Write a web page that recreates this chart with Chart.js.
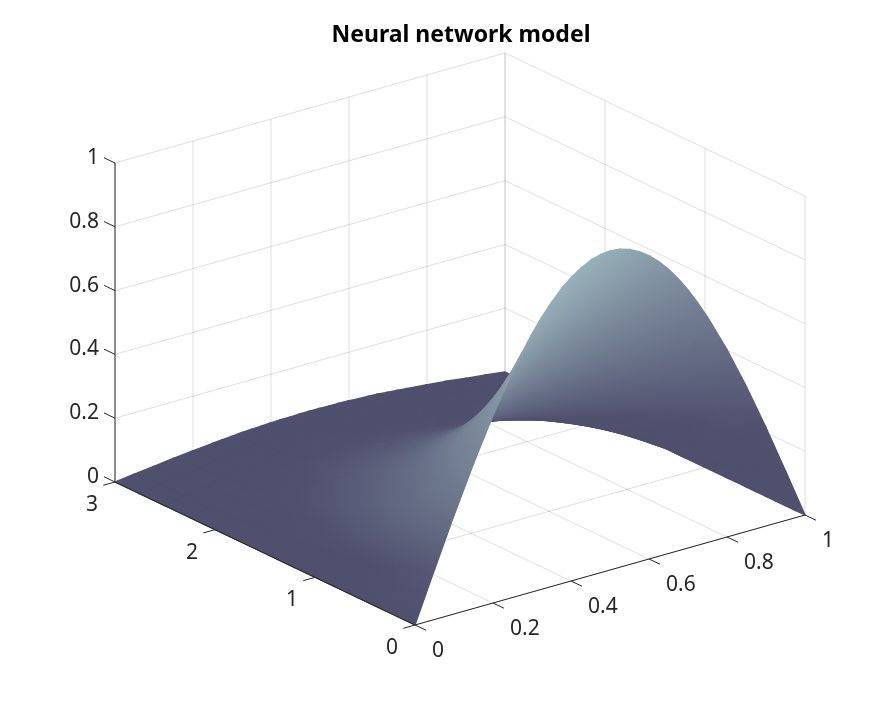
<!DOCTYPE html>
<html>
<head>
<meta charset="utf-8">
<title>Neural network model</title>
<script src="https://cdn.jsdelivr.net/npm/chart.js@4"></script>
<style>
  html, body { margin: 0; background: #fff; }
  canvas { display: block; }
</style>
</head>
<body>
<canvas id="surfaceChart" width="891" height="703"></canvas>
<script>
const chartTitle = 'Neural network model';

const xTicks = [0, 0.2, 0.4, 0.6, 0.8, 1];
const tTicks = [0, 1, 2, 3];
const zTicks = [0, 0.2, 0.4, 0.6, 0.8, 1];

// Surface grid: one row per t, one column per x
const xValues = [0, 0.05, 0.1, 0.15, 0.2, 0.25, 0.275, 0.3, 0.325, 0.35, 0.375, 0.4, 0.425, 0.45, 0.475, 0.5, 0.525, 0.55, 0.575, 0.6, 0.625, 0.65, 0.675, 0.7, 0.725, 0.75, 0.8, 0.85, 0.9, 0.95, 1];
const tValues = [0, 0.1, 0.2, 0.3, 0.4, 0.5, 0.6, 0.8, 1, 1.2, 1.4, 1.6, 1.8, 2, 2.25, 2.5, 2.75, 3];
const uRows = [
  [0, .156, .309, .454, .588, .707, .760, .809, .853, .891, .924, .951, .972, .988, .997, 1, .997, .988, .972, .951, .924, .891, .853, .809, .760, .707, .588, .454, .309, .156, 0],
  [0, .141, .280, .411, .532, .640, .688, .732, .772, .806, .836, .861, .880, .894, .902, .905, .902, .894, .880, .861, .836, .806, .772, .732, .688, .640, .532, .411, .280, .141, 0],
  [0, .128, .253, .372, .482, .579, .622, .663, .699, .730, .757, .779, .796, .809, .817, .819, .817, .809, .796, .779, .757, .730, .699, .663, .622, .579, .482, .372, .253, .128, 0],
  [0, .116, .229, .336, .436, .524, .563, .599, .632, .660, .685, .705, .720, .732, .739, .741, .739, .732, .720, .705, .685, .660, .632, .599, .563, .524, .436, .336, .229, .116, 0],
  [0, .105, .207, .304, .394, .474, .509, .542, .572, .597, .619, .637, .651, .662, .668, .670, .668, .662, .651, .637, .619, .597, .572, .542, .509, .474, .394, .304, .207, .105, 0],
  [0, .095, .188, .276, .357, .429, .461, .491, .518, .541, .561, .577, .590, .600, .605, .607, .605, .600, .590, .577, .561, .541, .518, .491, .461, .429, .357, .276, .188, .095, 0],
  [0, .086, .170, .249, .323, .388, .417, .444, .468, .489, .507, .522, .534, .542, .547, .549, .547, .542, .534, .522, .507, .489, .468, .444, .417, .388, .323, .249, .170, .086, 0],
  [0, .070, .139, .204, .264, .317, .341, .363, .383, .400, .415, .427, .436, .444, .448, .449, .448, .444, .436, .427, .415, .400, .383, .363, .341, .317, .264, .204, .139, .070, 0],
  [0, .057, .114, .167, .216, .260, .280, .298, .314, .328, .340, .350, .358, .364, .367, .368, .367, .364, .358, .350, .340, .328, .314, .298, .280, .260, .216, .167, .114, .057, 0],
  [0, .047, .093, .137, .177, .213, .229, .244, .257, .268, .278, .286, .293, .297, .300, .301, .300, .297, .293, .286, .278, .268, .257, .244, .229, .213, .177, .137, .093, .047, 0],
  [0, .039, .076, .112, .145, .175, .188, .200, .211, .220, .228, .235, .240, .244, .246, .247, .246, .244, .240, .235, .228, .220, .211, .200, .188, .175, .145, .112, .076, .039, 0],
  [0, .032, .062, .092, .119, .143, .154, .163, .172, .180, .187, .192, .196, .200, .201, .202, .201, .200, .196, .192, .187, .180, .172, .163, .154, .143, .119, .092, .062, .032, 0],
  [0, .026, .051, .075, .097, .117, .125, .133, .141, .147, .152, .157, .160, .163, .165, .165, .165, .163, .160, .157, .152, .147, .141, .133, .125, .117, .097, .075, .051, .026, 0],
  [0, .021, .042, .061, .079, .095, .103, .109, .115, .120, .125, .128, .131, .133, .135, .135, .135, .133, .131, .128, .125, .120, .115, .109, .103, .095, .079, .061, .042, .021, 0],
  [0, .016, .032, .048, .062, .074, .080, .085, .090, .094, .097, .100, .102, .104, .105, .105, .105, .104, .102, .100, .097, .094, .090, .085, .080, .074, .062, .048, .032, .016, 0],
  [0, .013, .025, .037, .048, .058, .062, .066, .070, .073, .076, .078, .080, .081, .082, .082, .082, .081, .080, .078, .076, .073, .070, .066, .062, .058, .048, .037, .025, .013, 0],
  [0, .010, .020, .029, .038, .045, .049, .052, .055, .057, .059, .061, .062, .063, .064, .064, .064, .063, .062, .061, .059, .057, .055, .052, .049, .045, .038, .029, .020, .010, 0],
  [0, .008, .015, .023, .029, .035, .038, .040, .043, .045, .046, .048, .049, .049, .050, .050, .050, .049, .049, .048, .046, .045, .043, .040, .038, .035, .029, .023, .015, .008, 0]
];

const DARK = [79, 79, 110];
const LIGHT = [152, 177, 185];
const AXIS_COLOR = '#262626';
const GRID_COLOR = 'rgba(38, 38, 38, 0.15)';
const FONT = '"Noto Sans", sans-serif';

// Fixed camera of the 3D view, maps (x, t, z) onto the chart's flat x/y scales
function project(x, t, z) {
  return {
    x: 415 + 390 * x - 100 * t,
    y: 625 - 110 * x - 47.67 * t - 319 * z
  };
}

// Distance from the camera, larger is further away
function depth(x, t, z) {
  return 0.567 * x + 0.245 * t - 0.256 * z;
}

// Stand-in for the reference's lit shading, tuned by eye
function shade(x, t, u) {
  const v = u * Math.max(1.3 - 0.8 * x, 1.6 - 2.3 * x) * (1 + 0.5 * t * (1 - x));
  return Math.min(1, Math.max(0, (v - 0.16) * 1.3));
}

function shadeColor(s) {
  const c = DARK.map((d, i) => Math.round(d + (LIGHT[i] - d) * s));
  return `rgb(${c[0]}, ${c[1]}, ${c[2]})`;
}

function lineDataset(points, color, width) {
  return {
    data: points,
    showLine: true,
    fill: false,
    borderColor: color,
    borderWidth: width,
    pointRadius: 0,
    tension: 0,
    clip: false
  };
}

// Back walls and floor
function buildGrid() {
  const sets = [];
  const add = (a, b) => sets.push(lineDataset([project(...a), project(...b)], GRID_COLOR, 1));
  zTicks.forEach(z => {
    add([0, 3, z], [1, 3, z]);
    add([1, 3, z], [1, 0, z]);
  });
  xTicks.forEach(x => {
    add([x, 3, 0], [x, 3, 1]);
    add([x, 0, 0], [x, 3, 0]);
  });
  tTicks.forEach(t => {
    add([1, t, 0], [1, t, 1]);
    add([0, t, 0], [1, t, 0]);
  });
  return sets;
}

function buildAxes() {
  const sets = [];
  const add = (a, b) => sets.push(lineDataset([project(...a), project(...b)], AXIS_COLOR, 1));
  add([0, 0, 0], [1, 0, 0]);
  add([0, 0, 0], [0, 3, 0]);
  add([0, 3, 0], [0, 3, 1]);
  xTicks.forEach(x => add([x, 0, 0], [x, -0.11, 0]));
  tTicks.forEach(t => add([0, t, 0], [-0.03, t, 0]));
  zTicks.forEach(z => add([0, 3, z], [0, 3.11, z]));
  return sets;
}

// Least squares plane through the quad's shade values, gives the gradient direction
function shadeSlope(corners) {
  const n = corners.length;
  const mx = corners.reduce((sum, c) => sum + c.p.x, 0) / n;
  const my = corners.reduce((sum, c) => sum + c.p.y, 0) / n;
  const ms = corners.reduce((sum, c) => sum + c.s, 0) / n;
  let xx = 0, xy = 0, yy = 0, xs = 0, ys = 0;
  corners.forEach(c => {
    const dx = c.p.x - mx, dy = c.p.y - my, ds = c.s - ms;
    xx += dx * dx; xy += dx * dy; yy += dy * dy; xs += dx * ds; ys += dy * ds;
  });
  const det = xx * yy - xy * xy;
  if (det < 1) return null;
  const a = (xs * yy - ys * xy) / det;
  const b = (ys * xx - xs * xy) / det;
  const len = a * a + b * b;
  if (len < 1e-9) return null;
  return { mx, my, ms, ux: a / len, uy: b / len };
}

function quadDataset(quad) {
  const shades = quad.corners.map(c => c.s);
  const low = Math.min(...shades);
  const high = Math.max(...shades);
  const slope = shadeSlope(quad.corners);
  const flat = shadeColor((low + high) / 2);
  const paint = ctx => {
    const { chart } = ctx;
    if (!slope || high - low < 0.002) return flat;
    const pos = s => ({ x: slope.mx + (s - slope.ms) * slope.ux, y: slope.my + (s - slope.ms) * slope.uy });
    const a = pos(low);
    const b = pos(high);
    const x0 = chart.scales.x?.getPixelForValue(a.x);
    const y0 = chart.scales.y?.getPixelForValue(a.y);
    const x1 = chart.scales.x?.getPixelForValue(b.x);
    const y1 = chart.scales.y?.getPixelForValue(b.y);
    // Scales have no size yet on the first options pass
    if (![x0, y0, x1, y1].every(Number.isFinite)) return flat;
    const g = chart.ctx.createLinearGradient(x0, y0, x1, y1);
    g.addColorStop(0, shadeColor(low));
    g.addColorStop(1, shadeColor(high));
    return g;
  };
  const outline = quad.corners.map(c => c.p);
  outline.push(outline[0]);
  return {
    data: outline,
    showLine: true,
    fill: 'shape',
    backgroundColor: paint,
    borderColor: paint,
    borderWidth: 1.3,
    pointRadius: 0,
    tension: 0,
    clip: false
  };
}

// Painter's order: Chart.js draws the last dataset first, so nearest quads go first
function buildSurface() {
  const quads = [];
  for (let r = 0; r < tValues.length - 1; r++) {
    for (let c = 0; c < xValues.length - 1; c++) {
      const ids = [[r, c], [r, c + 1], [r + 1, c + 1], [r + 1, c]];
      const corners = ids.map(([i, j]) => ({
        p: project(xValues[j], tValues[i], uRows[i][j]),
        s: shade(xValues[j], tValues[i], uRows[i][j]),
        d: depth(xValues[j], tValues[i], uRows[i][j])
      }));
      quads.push({ corners, d: corners.reduce((sum, k) => sum + k.d, 0) / 4 });
    }
  }
  quads.sort((a, b) => a.d - b.d);
  return quads.map(quadDataset);
}

const tickLabels = {
  id: 'tickLabels',
  afterDraw(chart) {
    const { ctx, scales } = chart;
    const put = (text, p, dx, dy) => {
      ctx.fillText(text, scales.x.getPixelForValue(p.x) + dx, scales.y.getPixelForValue(p.y) + dy);
    };
    ctx.save();
    ctx.font = `21px ${FONT}`;
    ctx.fillStyle = AXIS_COLOR;
    ctx.textBaseline = 'middle';
    ctx.textAlign = 'right';
    zTicks.forEach(z => put(String(z), project(0, 3, z), -16, -5));
    ctx.textAlign = 'center';
    tTicks.forEach(t => put(String(t), project(0, t, 0), -23, 23));
    ctx.textAlign = 'left';
    xTicks.forEach(x => put(String(x), project(x, 0, 0), 17, 26));
    ctx.restore();
  }
};

new Chart(document.getElementById('surfaceChart'), {
  type: 'scatter',
  data: { datasets: [...buildAxes(), ...buildSurface(), ...buildGrid()] },
  plugins: [tickLabels],
  options: {
    responsive: false,
    animation: false,
    events: [],
    layout: { padding: { left: 31 } },
    scales: {
      x: { type: 'linear', min: 31, max: 891, display: false },
      y: { type: 'linear', min: 47, max: 703, reverse: true, display: false }
    },
    plugins: {
      legend: { display: false },
      tooltip: { enabled: false },
      title: {
        display: true,
        fullSize: false,
        text: chartTitle,
        color: '#000',
        font: { family: FONT, size: 23, weight: 'bold', lineHeight: 1 },
        padding: { top: 24, bottom: 0 }
      }
    }
  }
});
</script>
</body>
</html>
